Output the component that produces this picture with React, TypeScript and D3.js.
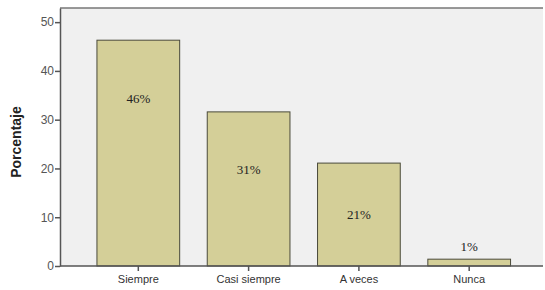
import React, { useEffect, useRef } from 'react';
import * as d3 from 'd3';

const categories = ['Siempre', 'Casi siempre', 'A veces', 'Nunca'];
const percentages = [46.3, 31.6, 21.1, 1.4];
const barLabels = ['46%', '31%', '21%', '1%'];
const yTicks = [0, 10, 20, 30, 40, 50];

const App = () => {
  const ref = useRef<SVGSVGElement>(null);

  useEffect(() => {
    const width = 545;
    const height = 290;
    const margin = { top: 8, right: 2, bottom: 24, left: 60 };

    const svg = d3.select(ref.current);
    svg.selectAll('*').remove();

    const x = d3.scaleBand()
      .domain(categories)
      .range([margin.left, 547.5])
      .paddingInner(0.25)
      .paddingOuter(0.335);

    const y = d3.scaleLinear()
      .domain([0, 52.9])
      .range([height - margin.bottom, margin.top]);

    // plot background
    svg.append('rect')
      .attr('x', margin.left)
      .attr('y', margin.top)
      .attr('width', width - margin.left - margin.right)
      .attr('height', height - margin.top - margin.bottom)
      .attr('fill', '#f0f0f0');

    // top border
    svg.append('line')
      .attr('x1', margin.left)
      .attr('x2', width - margin.right)
      .attr('y1', margin.top)
      .attr('y2', margin.top)
      .attr('stroke', '#777')
      .attr('stroke-width', 1.5);

    // bars
    svg.selectAll('rect.bar')
      .data(percentages)
      .enter()
      .append('rect')
        .attr('class', 'bar')
        .attr('x', (d, i) => x(categories[i])!)
        .attr('y', (d) => y(d))
        .attr('width', x.bandwidth())
        .attr('height', (d) => y(0) - y(d))
        .attr('fill', '#d4cf98')
        .attr('stroke', '#4a4a3a')
        .attr('stroke-width', 1);

    // value labels
    svg.selectAll('text.val')
      .data(percentages)
      .enter()
      .append('text')
        .attr('class', 'val')
        .attr('x', (d, i) => x(categories[i])! + x.bandwidth() / 2)
        .attr('y', (d) => {
          const h = y(0) - y(d);
          if (h < 20) return y(d) - 13;
          return y(d) + Math.min(58, h / 2);
        })
        .attr('dy', '0.35em')
        .attr('text-anchor', 'middle')
        .attr('font-family', '"Liberation Serif", serif')
        .attr('font-size', 13)
        .attr('fill', '#222')
        .text((d, i) => barLabels[i]);

    // Y axis
    const yAxis = svg.append('g')
      .attr('transform', `translate(${margin.left},0)`)
      .call(d3.axisLeft(y).tickValues(yTicks).tickSize(5).tickSizeOuter(0));
    yAxis.select('.domain').attr('stroke', '#555').attr('stroke-width', 1.5);
    yAxis.selectAll('.tick line').attr('stroke', '#555').attr('stroke-width', 1.5);
    yAxis.selectAll('.tick text')
      .attr('font-family', '"Liberation Sans", Arial, sans-serif')
      .attr('font-size', 12)
      .attr('fill', '#555')
      .attr('x', -6);

    // X axis
    const xAxis = svg.append('g')
      .attr('transform', `translate(0,${height - margin.bottom})`)
      .call(d3.axisBottom(x).tickSize(5).tickSizeOuter(0));
    xAxis.select('.domain')
      .attr('d', `M${margin.left},0H${width - margin.right}`)
      .attr('stroke', '#555').attr('stroke-width', 1.5);
    xAxis.selectAll('.tick line').attr('stroke', '#555').attr('stroke-width', 1.5);
    xAxis.selectAll('.tick text')
      .attr('font-family', '"Liberation Sans", Arial, sans-serif')
      .attr('font-size', 11)
      .attr('fill', '#333')
      .attr('y', 9);

    // axis title
    svg.append('text')
      .attr('transform', `translate(21,${(margin.top + height - margin.bottom) / 2 + 5}) rotate(-90)`)
      .attr('text-anchor', 'middle')
      .attr('font-family', '"Liberation Sans", Arial, sans-serif')
      .attr('font-weight', 'bold')
      .attr('font-size', 14)
      .attr('fill', '#222')
      .text('Porcentaje');
  }, []);

  return (
    <svg ref={ref} width={545} height={290} style={{ position: 'absolute', left: 0, top: 0 }}></svg>
  );
};

export default App;
